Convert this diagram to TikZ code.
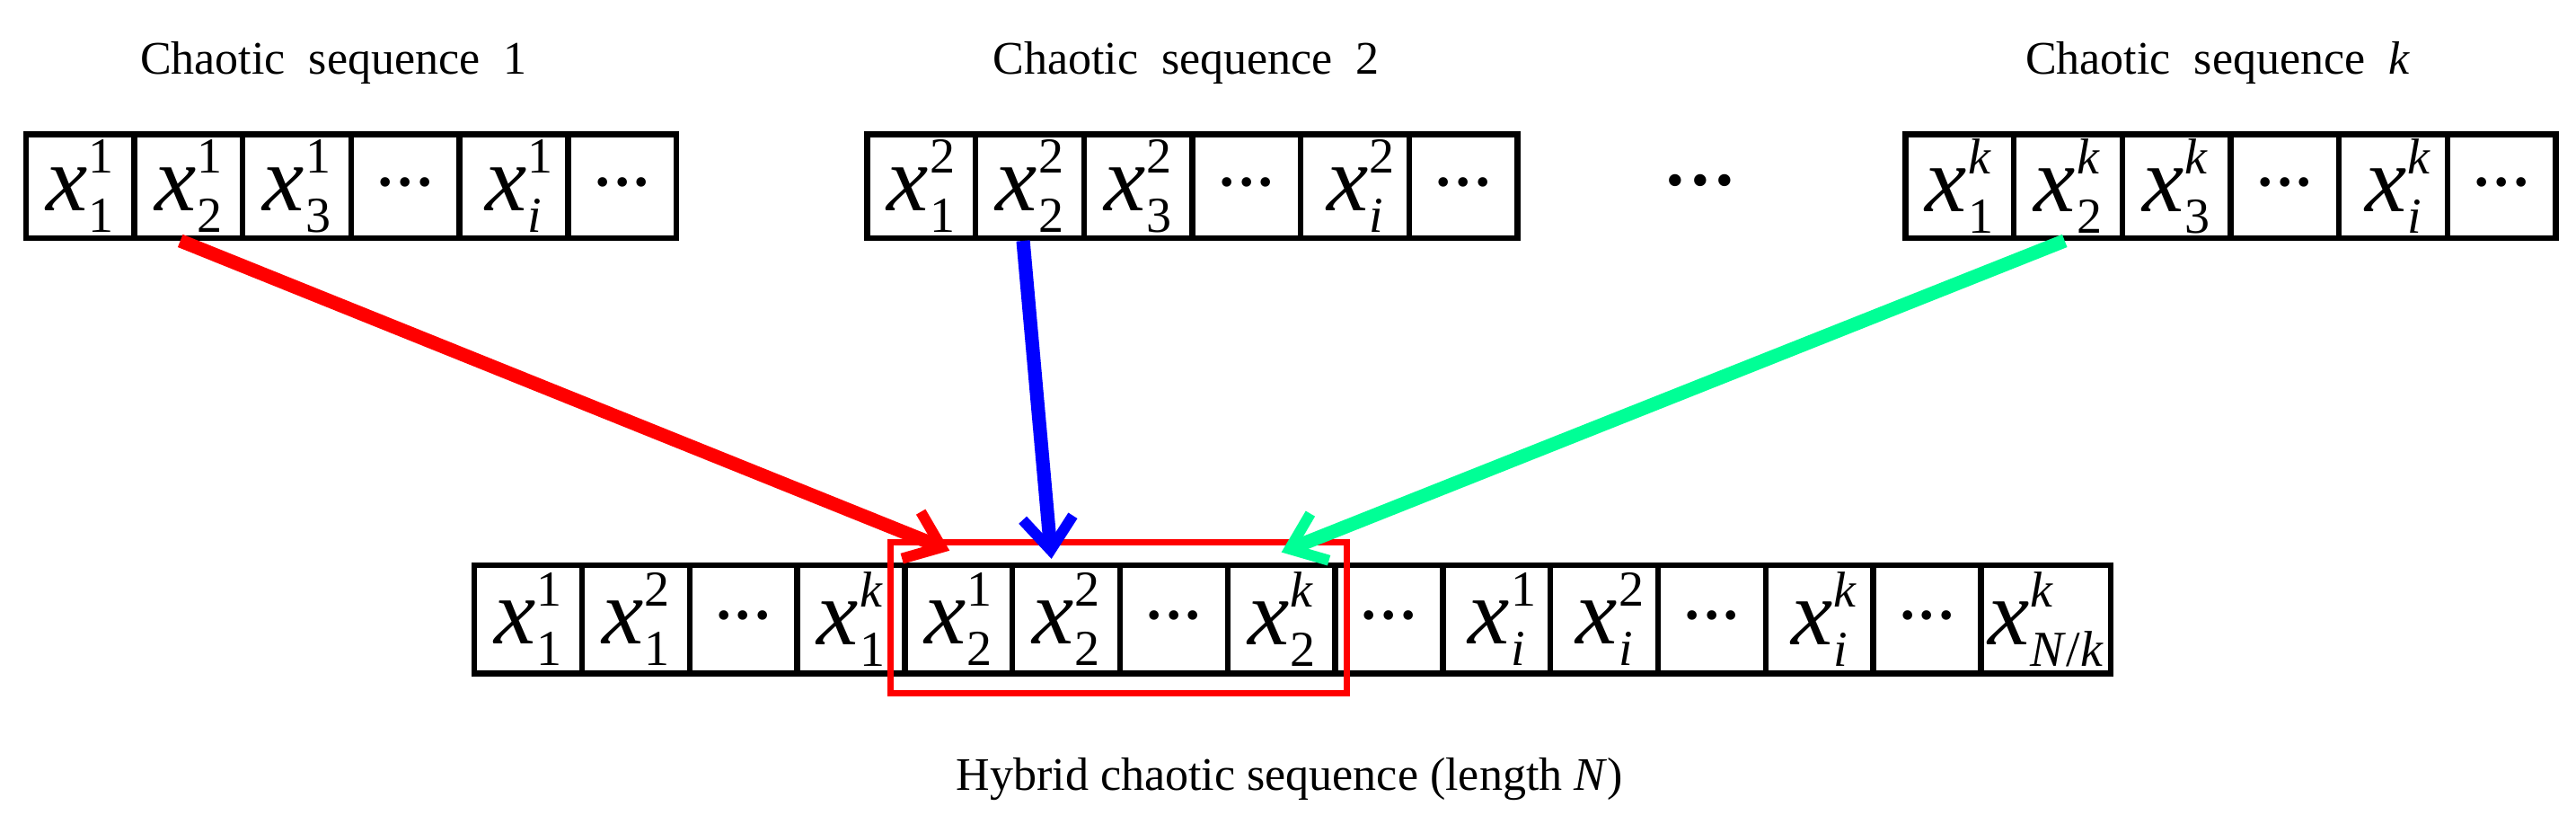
\documentclass[tikz,border=0pt]{standalone}
\usepackage{fontspec}
\setmainfont{Liberation Serif}
\usetikzlibrary{arrows.meta}
\definecolor{grn}{RGB}{0,255,150}
\newcommand\cx[2]{{\fontsize{26}{26}\selectfont\textit{x}\kern0.3pt\fontsize{14}{14}\selectfont\makebox[0pt][l]{\raisebox{10.5pt}{#1}}\raisebox{-6pt}{#2}}}
\newcommand\cdd{{\fontsize{11}{11}\selectfont\textbullet\kern1.6pt\textbullet\kern1.6pt\textbullet}}
\begin{document}
\begin{tikzpicture}[x=0.457pt,y=-0.457pt,
 cell/.style={draw=black,line width=1.6pt,minimum width=66*0.457pt,minimum height=63*0.457pt,inner sep=0pt,anchor=north west},
 bcell/.style={cell,minimum width=65.5*0.457pt,minimum height=66*0.457pt},
 title/.style={font=\fontsize{13}{13}\selectfont},
 arr/.style={line width=3.8pt,-{Straight Barb[length=9pt,width=14pt,line width=3pt]}}]
\useasboundingbox (0,0) rectangle (1568,501);
\node[title] (t1) at (203,38) {Chaotic\ \ sequence\ \ 1};
\node[title] (t2) at (722,38) {Chaotic\ \ sequence\ \ 2};
\node[title] (tk) at (1350,38) {Chaotic\ \ sequence\ \ \textit{k}};
% top sequences
\foreach \s/\x/\sup in {a/14/1,b/526/2,c/1158/{\textit{k}}}{
 \node[cell] (\s1) at (\x,80) {\cx{\sup}{1}};
 \node[cell] (\s2) at (\x+66,80) {\cx{\sup}{2}};
 \node[cell] (\s3) at (\x+132,80) {\cx{\sup}{3}};
 \node[cell] (\s4) at (\x+198,80) {\cdd};
 \node[cell] (\s5) at (\x+264,80) {\cx{\sup}{\textit{i}}};
 \node[cell] (\s6) at (\x+330,80) {\cdd};
}
\node (mid) at (1035,113) {{\fontsize{14}{14}\selectfont\textbullet\kern2pt\textbullet\kern2pt\textbullet}};
% bottom
\foreach \i/\c in {0/{\cx{1}{1}},1/{\cx{2}{1}},2/{\cdd},3/{\cx{\textit{k}}{1}},4/{\cx{1}{2}},5/{\cx{2}{2}},6/{\cdd},7/{\cx{\textit{k}}{2}},8/{\cdd},9/{\cx{1}{\textit{i}}},10/{\cx{2}{\textit{i}}},11/{\cdd},12/{\cx{\textit{k}}{\textit{i}}},13/{\cdd}}{
 \node[bcell] (h\i) at (287+65.5*\i,342) {\c};
}
\node[bcell,minimum width=79*0.457pt] (h14) at (1204,342) {\cx{\textit{k}}{\textit{N}/\textit{k}}};
\node[draw=red,line width=1.8pt,minimum width=278*0.457pt,minimum height=92*0.457pt,inner sep=0pt,anchor=north west] (sel) at (540,328) {};
\coordinate (e1) at (578,335);
\coordinate (e2) at (640,340);
\coordinate (e3) at (780,336);
\draw[arr,red] ([xshift=-5*0.457pt]a2.south) -- (e1);
\draw[arr,blue] ([xshift=-4*0.457pt]b2.south) -- (e2);
\draw[arr,grn] ([xshift=-2*0.457pt]c2.south) -- (e3);
\node[title] (lab) at (785,474) {Hybrid chaotic sequence (length \textit{N})};
\end{tikzpicture}
\end{document}
